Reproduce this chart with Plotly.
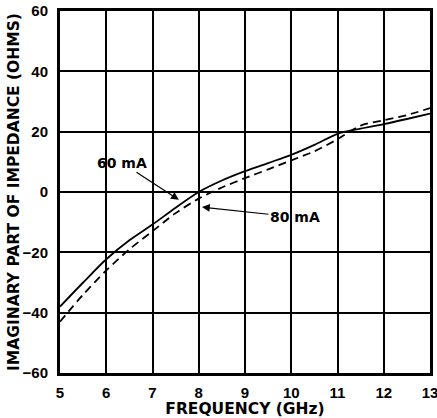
import plotly.graph_objects as go

freq = [5, 5.5, 6, 6.5, 7, 7.5, 8, 8.5, 9, 9.5, 10, 10.5, 11, 11.5, 12, 12.5, 13]
im_60mA = [-38, -30, -22.3, -16, -10.8, -5.2, 0, 3.8, 6.9, 9.6, 12.3, 15.6, 19.3, 21, 22.5, 24.2, 26]
im_80mA = [-43, -34, -26, -19, -13, -7, -2.2, 1.5, 4.6, 7.5, 10.5, 13.5, 17.5, 22, 23.8, 25.5, 27.8]

x_ticks = [5, 6, 7, 8, 9, 10, 11, 12, 13]
y_ticks = [-60, -40, -20, 0, 20, 40, 60]

TICKFONT = dict(family="Liberation Sans", size=15, color="black", weight="bold")
TITLEFONT = dict(family="DejaVu Sans", size=15.5, color="black", weight="bold")
ANNFONT = dict(family="DejaVu Sans", size=14, color="black", weight="bold")

fig = go.Figure()
fig.add_trace(go.Scatter(x=freq, y=im_60mA, mode="lines", name="60 mA",
                         line=dict(color="black", width=1.8, shape="spline", smoothing=0.8)))
fig.add_trace(go.Scatter(x=freq, y=im_80mA, mode="lines", name="80 mA",
                         line=dict(color="black", width=1.8, shape="spline", smoothing=0.8,
                                   dash="8px,5px")))

fig.add_annotation(x=7.57, y=-2.6, text="60 mA", showarrow=True, arrowhead=2,
                   arrowsize=1.3, arrowwidth=1.2, arrowcolor="black",
                   ax=-57, ay=-37, font=ANNFONT, xanchor="center", yanchor="middle")
fig.add_annotation(x=8.07, y=-5, text="80 mA", showarrow=True, arrowhead=2,
                   arrowsize=1.3, arrowwidth=1.2, arrowcolor="black",
                   ax=93, ay=10, font=ANNFONT, xanchor="center", yanchor="middle")

fig.update_layout(
    width=437, height=418,
    margin=dict(l=60, r=7, t=11, b=45, autoexpand=False),
    paper_bgcolor="white", plot_bgcolor="white",
    showlegend=False,
)
fig.update_xaxes(range=[5, 13], tickvals=x_ticks, ticktext=[str(v) for v in x_ticks],
                 showgrid=True, gridcolor="black", gridwidth=2,
                 showline=True, linecolor="black", linewidth=3, mirror=True,
                 zeroline=False, ticks="", tickfont=TICKFONT, ticklabelstandoff=4,
                 ticklabeloverflow="allow", automargin=False,
                 title=dict(text="FREQUENCY (GHz)", font=TITLEFONT, standoff=5))
fig.update_yaxes(range=[-60, 60], tickvals=y_ticks,
                 showgrid=True, gridcolor="black", gridwidth=2,
                 showline=True, linecolor="black", linewidth=3, mirror=True,
                 zeroline=False, ticks="", tickfont=TICKFONT, ticklabelstandoff=6,
                 ticklabeloverflow="allow", automargin=False,
                 title=dict(text="IMAGINARY PART OF IMPEDANCE (OHMS)", font=TITLEFONT, standoff=0))

fig.write_html("out.html")
